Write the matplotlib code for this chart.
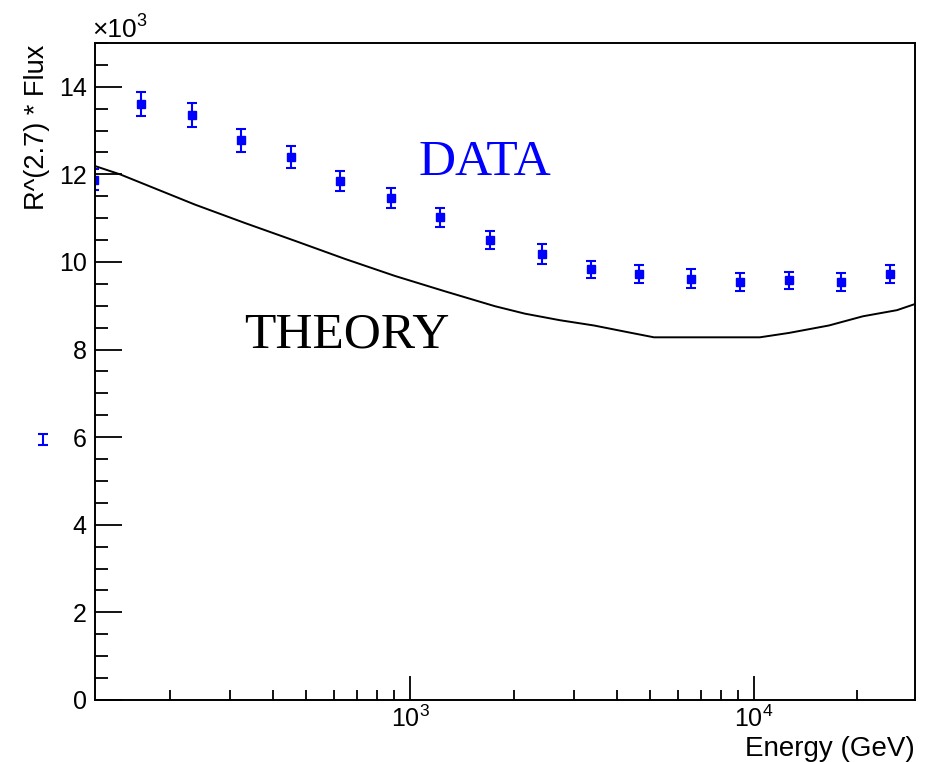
import numpy as np
import matplotlib
matplotlib.use("Agg")
import matplotlib.pyplot as plt
from matplotlib.ticker import LogLocator, NullFormatter, MultipleLocator, FuncFormatter

plt.rcParams['font.family'] = ['Liberation Sans', 'DejaVu Sans']
plt.rcParams['mathtext.fontset'] = 'custom'
plt.rcParams['mathtext.rm'] = 'Liberation Sans'
plt.rcParams['mathtext.it'] = 'Liberation Sans:italic'
plt.rcParams['mathtext.bf'] = 'Liberation Sans:bold'

# 测量点 (能量 GeV, R^2.7 * Flux 以 10^3 为单位)
energy = [120.6, 165, 232, 323, 450, 624, 881, 1223, 1709, 2417,
          3350, 4630, 6560, 9095, 12640, 17910, 24840]
flux = [11.88, 13.60, 13.36, 12.78, 12.40, 11.85, 11.46, 11.02, 10.50, 10.19,
        9.83, 9.73, 9.62, 9.54, 9.58, 9.54, 9.73]
flux_err = [0.24, 0.27, 0.27, 0.26, 0.25, 0.22, 0.22, 0.22, 0.20, 0.23,
            0.20, 0.20, 0.21, 0.21, 0.20, 0.21, 0.20]

# 落在坐标范围之外的低能点
energy_out = [85.7]
flux_out = [5.94]
flux_err_out = [0.13]

# 理论曲线
theory_energy = [121.4, 143.6, 237, 331, 464, 647, 905, 1264, 1766, 2158, 2729,
                 3427, 4277, 5120, 10400, 12640, 16520, 20740, 26060, 29400]
theory_flux = [12.19, 12.00, 11.31, 10.89, 10.48, 10.07, 9.68, 9.33, 8.99, 8.82, 8.67,
               8.55, 8.40, 8.28, 8.28, 8.38, 8.55, 8.76, 8.90, 9.04]

fig = plt.figure(figsize=(9.3, 7.62), dpi=100)
ax = fig.add_axes([0.1022, 0.0814, 0.8817, 0.8622])

ax.set_xscale('log')
ax.set_xlim(121.4, 29400)
ax.set_ylim(0, 15)

ax.plot(theory_energy, theory_flux, color='black', lw=1.4)

ax.errorbar(energy, flux, yerr=flux_err, fmt='s', color='#0000ff', ms=6,
            elinewidth=1.5, capsize=3.8, capthick=1.5)
ax.errorbar(energy_out, flux_out, yerr=flux_err_out, fmt='none', ecolor='#0000ff',
            elinewidth=1.5, capsize=3.8, capthick=1.5, clip_on=False)

# 坐标轴样式
for sp in ax.spines.values():
    sp.set_linewidth(1.4)
ax.yaxis.set_major_locator(MultipleLocator(2))
ax.yaxis.set_minor_locator(MultipleLocator(0.5))
ax.yaxis.set_major_formatter(FuncFormatter(lambda v, p: f"{v:g}"))
ax.xaxis.set_major_locator(LogLocator(base=10, numticks=10))
ax.xaxis.set_minor_locator(LogLocator(base=10, subs=np.arange(2, 10), numticks=20))
ax.xaxis.set_minor_formatter(NullFormatter())

ax.tick_params(axis='y', which='major', direction='in', length=19.5, width=1.3,
               labelsize=18, pad=6, right=False)
ax.tick_params(axis='y', which='minor', direction='in', length=9.5, width=1.3, right=False)
ax.tick_params(axis='x', which='major', direction='in', length=17, width=1.3,
               labelsize=18, pad=4, top=False)
ax.tick_params(axis='x', which='minor', direction='in', length=7.5, width=1.3, top=False)

ax.text(-0.0707, 0.997, "R^(2.7) * Flux", rotation=90, ha='center', va='top',
        fontsize=19.5, transform=ax.transAxes)
ax.text(1.0, -0.085, "Energy (GeV)", ha='right', va='baseline',
        fontsize=20, transform=ax.transAxes)

fig.text(92 / 930, 1 - 37 / 762, "×10", fontsize=19, ha='left', va='baseline')
fig.text(136 / 930, 1 - 26 / 762, "3", fontsize=13, ha='left', va='baseline')

ax.text(0.394, 0.799, "DATA", color='#0000ff', fontsize=37,
        family='Liberation Serif', transform=ax.transAxes, va='baseline')
ax.text(0.1817, 0.536, "THEORY", color='black', fontsize=37,
        family='Liberation Serif', transform=ax.transAxes, va='baseline')

fig.savefig("out.png", dpi=100)
